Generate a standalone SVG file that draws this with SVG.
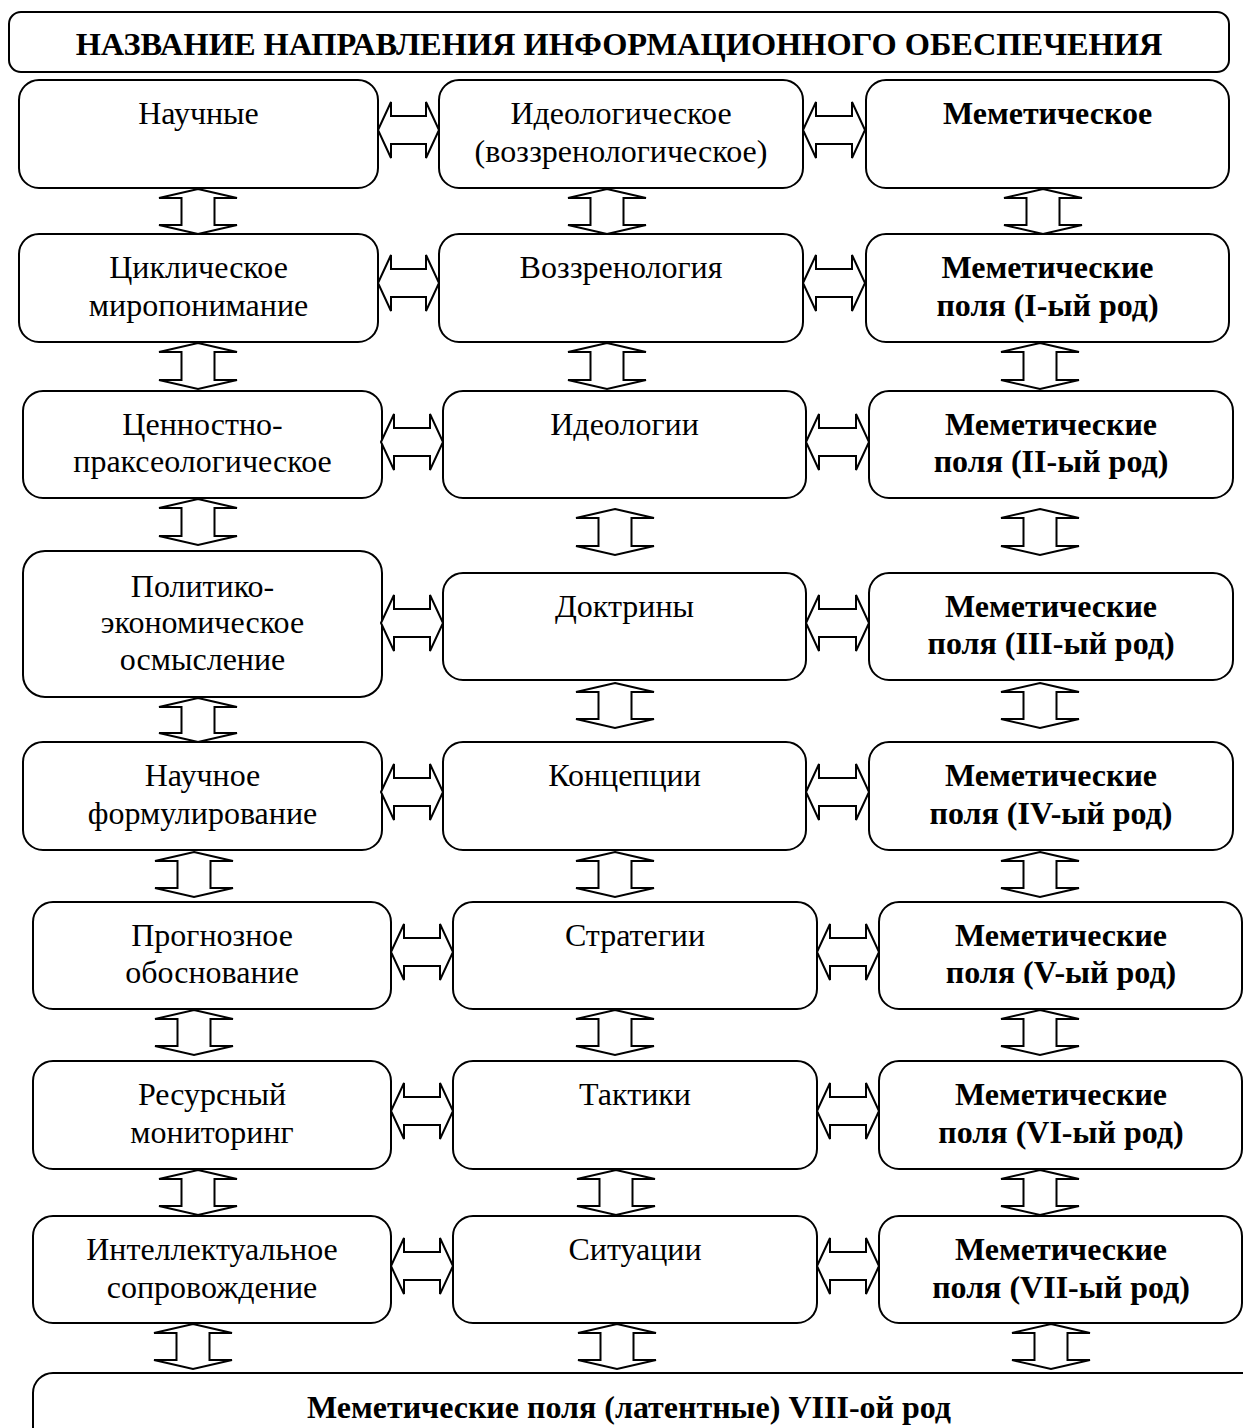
<svg xmlns="http://www.w3.org/2000/svg" width="1243" height="1428" viewBox="0 0 1243 1428">
<style>
.box{fill:#fff;stroke:#000;stroke-width:2}
.arr{fill:#fff;stroke:#000;stroke-width:2;stroke-linejoin:miter}
text{font-family:"Liberation Serif","Times New Roman",serif;font-size:32px;fill:#000;text-anchor:middle}
.b{font-weight:bold}
.t{font-size:32.4px}
</style>
<rect width="1243" height="1428" fill="#fff"/>
<g id="title"><rect class="box" x="9" y="12" width="1220" height="60" rx="12"/><text class="b t" x="619" y="55">НАЗВАНИЕ НАПРАВЛЕНИЯ ИНФОРМАЦИОННОГО ОБЕСПЕЧЕНИЯ</text></g>

<g id="n-nauchnye"><rect class="box" x="19" y="80" width="359" height="108" rx="20"/><text x="198.5" y="124">Научные</text></g>
<g id="n-ideolog"><rect class="box" x="439" y="80" width="364" height="108" rx="20"/><text x="621" y="124">Идеологическое</text><text x="621" y="162">(воззренологическое)</text></g>
<g id="n-memet"><rect class="box" x="866" y="80" width="363" height="108" rx="20"/><text class="b" x="1047.5" y="124">Меметическое</text></g>

<g id="n-cikl"><rect class="box" x="19" y="234" width="359" height="108" rx="20"/><text x="198.5" y="278">Циклическое</text><text x="198.5" y="316">миропонимание</text></g>
<g id="n-vozzr"><rect class="box" x="439" y="234" width="364" height="108" rx="20"/><text x="621" y="278">Воззренология</text></g>
<g id="n-m1"><rect class="box" x="866" y="234" width="363" height="108" rx="20"/><text class="b" x="1047.5" y="278">Меметические</text><text class="b" x="1047.5" y="316">поля (I-ый род)</text></g>

<g id="n-cenn"><rect class="box" x="23" y="391" width="359" height="107" rx="20"/><text x="202.5" y="435">Ценностно-</text><text x="202.5" y="472">праксеологическое</text></g>
<g id="n-ideologii"><rect class="box" x="443" y="391" width="363" height="107" rx="20"/><text x="624.5" y="435">Идеологии</text></g>
<g id="n-m2"><rect class="box" x="869" y="391" width="364" height="107" rx="20"/><text class="b" x="1051" y="435">Меметические</text><text class="b" x="1051" y="472">поля (II-ый род)</text></g>

<g id="n-polit"><rect class="box" x="23" y="551" width="359" height="146" rx="22"/><text x="202.5" y="597">Политико-</text><text x="202.5" y="633">экономическое</text><text x="202.5" y="670">осмысление</text></g>
<g id="n-doktr"><rect class="box" x="443" y="573" width="363" height="107" rx="20"/><text x="624.5" y="617">Доктрины</text></g>
<g id="n-m3"><rect class="box" x="869" y="573" width="364" height="107" rx="20"/><text class="b" x="1051" y="617">Меметические</text><text class="b" x="1051" y="654">поля (III-ый род)</text></g>

<g id="n-nauch-form"><rect class="box" x="23" y="742" width="359" height="108" rx="20"/><text x="202.5" y="786">Научное</text><text x="202.5" y="824">формулирование</text></g>
<g id="n-konc"><rect class="box" x="443" y="742" width="363" height="108" rx="20"/><text x="624.5" y="786">Концепции</text></g>
<g id="n-m4"><rect class="box" x="869" y="742" width="364" height="108" rx="20"/><text class="b" x="1051" y="786">Меметические</text><text class="b" x="1051" y="824">поля (IV-ый род)</text></g>

<g id="n-progn"><rect class="box" x="33" y="902" width="358" height="107" rx="20"/><text x="212" y="946">Прогнозное</text><text x="212" y="983">обоснование</text></g>
<g id="n-strat"><rect class="box" x="453" y="902" width="364" height="107" rx="20"/><text x="635" y="946">Стратегии</text></g>
<g id="n-m5"><rect class="box" x="879" y="902" width="363" height="107" rx="20"/><text class="b" x="1061" y="946">Меметические</text><text class="b" x="1061" y="983">поля (V-ый род)</text></g>

<g id="n-resurs"><rect class="box" x="33" y="1061" width="358" height="108" rx="20"/><text x="212" y="1105">Ресурсный</text><text x="212" y="1143">мониторинг</text></g>
<g id="n-takt"><rect class="box" x="453" y="1061" width="364" height="108" rx="20"/><text x="635" y="1105">Тактики</text></g>
<g id="n-m6"><rect class="box" x="879" y="1061" width="363" height="108" rx="20"/><text class="b" x="1061" y="1105">Меметические</text><text class="b" x="1061" y="1143">поля (VI-ый род)</text></g>

<g id="n-intel"><rect class="box" x="33" y="1216" width="358" height="107" rx="20"/><text x="212" y="1260">Интеллектуальное</text><text x="212" y="1298">сопровождение</text></g>
<g id="n-sit"><rect class="box" x="453" y="1216" width="364" height="107" rx="20"/><text x="635" y="1260">Ситуации</text></g>
<g id="n-m7"><rect class="box" x="879" y="1216" width="363" height="107" rx="20"/><text class="b" x="1061" y="1260">Меметические</text><text class="b" x="1061" y="1298">поля (VII-ый род)</text></g>

<g id="n-latent"><rect class="box" x="33" y="1373" width="1260" height="120" rx="20"/><text class="b" x="629" y="1418">Меметические поля (латентные) VIII-ой род</text></g>

<g id="connectors">
<path class="arr" d="M378 130 L391 102 V116 H426 V102 L439 130 L426 158 V144 H391 V158 Z"/>
<path class="arr" d="M803 130 L816 102 V116 H852 V102 L865 130 L852 158 V144 H816 V158 Z"/>
<path class="arr" d="M378 283 L391 255 V269 H426 V255 L439 283 L426 311 V297 H391 V311 Z"/>
<path class="arr" d="M803 283 L816 255 V269 H852 V255 L865 283 L852 311 V297 H816 V311 Z"/>
<path class="arr" d="M381 442 L394 414 V428 H430 V414 L443 442 L430 470 V456 H394 V470 Z"/>
<path class="arr" d="M806 442 L819 414 V428 H856 V414 L869 442 L856 470 V456 H819 V470 Z"/>
<path class="arr" d="M381 623 L394 595 V609 H430 V595 L443 623 L430 651 V637 H394 V651 Z"/>
<path class="arr" d="M806 623 L819 595 V609 H856 V595 L869 623 L856 651 V637 H819 V651 Z"/>
<path class="arr" d="M381 792 L394 764 V778 H430 V764 L443 792 L430 820 V806 H394 V820 Z"/>
<path class="arr" d="M806 792 L819 764 V778 H856 V764 L869 792 L856 820 V806 H819 V820 Z"/>
<path class="arr" d="M391 952 L404 924 V938 H440 V924 L453 952 L440 980 V966 H404 V980 Z"/>
<path class="arr" d="M817 952 L830 924 V938 H866 V924 L879 952 L866 980 V966 H830 V980 Z"/>
<path class="arr" d="M391 1111 L404 1083 V1097 H440 V1083 L453 1111 L440 1139 V1125 H404 V1139 Z"/>
<path class="arr" d="M817 1111 L830 1083 V1097 H866 V1083 L879 1111 L866 1139 V1125 H830 V1139 Z"/>
<path class="arr" d="M391 1266 L404 1238 V1252 H440 V1238 L453 1266 L440 1294 V1280 H404 V1294 Z"/>
<path class="arr" d="M817 1266 L830 1238 V1252 H866 V1238 L879 1266 L866 1294 V1280 H830 V1294 Z"/>

<path class="arr" d="M198 189 L237 198 H214.5 V225 H237 L198 234 L159 225 H181.5 V198 H159 Z"/>
<path class="arr" d="M607 189 L646 198 H623.5 V225 H646 L607 234 L568 225 H590.5 V198 H568 Z"/>
<path class="arr" d="M1043 189 L1082 198 H1059.5 V225 H1082 L1043 234 L1004 225 H1026.5 V198 H1004 Z"/>
<path class="arr" d="M198 343 L237 352 H214.5 V380 H237 L198 389 L159 380 H181.5 V352 H159 Z"/>
<path class="arr" d="M607 343 L646 352 H623.5 V380 H646 L607 389 L568 380 H590.5 V352 H568 Z"/>
<path class="arr" d="M1040 343 L1079 352 H1056.5 V380 H1079 L1040 389 L1001 380 H1023.5 V352 H1001 Z"/>
<path class="arr" d="M198 499 L237 508 H214.5 V536 H237 L198 545 L159 536 H181.5 V508 H159 Z"/>
<path class="arr" d="M615 509 L654 518 H631.5 V546 H654 L615 555 L576 546 H598.5 V518 H576 Z"/>
<path class="arr" d="M1040 509 L1079 518 H1056.5 V546 H1079 L1040 555 L1001 546 H1023.5 V518 H1001 Z"/>
<path class="arr" d="M198 698 L237 707 H214.5 V733 H237 L198 742 L159 733 H181.5 V707 H159 Z"/>
<path class="arr" d="M615 683 L654 692 H631.5 V719 H654 L615 728 L576 719 H598.5 V692 H576 Z"/>
<path class="arr" d="M1040 683 L1079 692 H1056.5 V719 H1079 L1040 728 L1001 719 H1023.5 V692 H1001 Z"/>
<path class="arr" d="M194 852 L233 861 H210.5 V888 H233 L194 897 L155 888 H177.5 V861 H155 Z"/>
<path class="arr" d="M615 852 L654 861 H631.5 V888 H654 L615 897 L576 888 H598.5 V861 H576 Z"/>
<path class="arr" d="M1040 852 L1079 861 H1056.5 V888 H1079 L1040 897 L1001 888 H1023.5 V861 H1001 Z"/>
<path class="arr" d="M194 1010 L233 1019 H210.5 V1046 H233 L194 1055 L155 1046 H177.5 V1019 H155 Z"/>
<path class="arr" d="M615 1010 L654 1019 H631.5 V1046 H654 L615 1055 L576 1046 H598.5 V1019 H576 Z"/>
<path class="arr" d="M1040 1010 L1079 1019 H1056.5 V1046 H1079 L1040 1055 L1001 1046 H1023.5 V1019 H1001 Z"/>
<path class="arr" d="M198 1170 L237 1179 H214.5 V1206 H237 L198 1215 L159 1206 H181.5 V1179 H159 Z"/>
<path class="arr" d="M616 1170 L655 1179 H632.5 V1206 H655 L616 1215 L577 1206 H599.5 V1179 H577 Z"/>
<path class="arr" d="M1040 1170 L1079 1179 H1056.5 V1206 H1079 L1040 1215 L1001 1206 H1023.5 V1179 H1001 Z"/>
<path class="arr" d="M193 1324 L232 1333 H209.5 V1360 H232 L193 1369 L154 1360 H176.5 V1333 H154 Z"/>
<path class="arr" d="M617 1324 L656 1333 H633.5 V1360 H656 L617 1369 L578 1360 H600.5 V1333 H578 Z"/>
<path class="arr" d="M1051 1324 L1090 1333 H1067.5 V1360 H1090 L1051 1369 L1012 1360 H1034.5 V1333 H1012 Z"/>
</g>
</svg>
